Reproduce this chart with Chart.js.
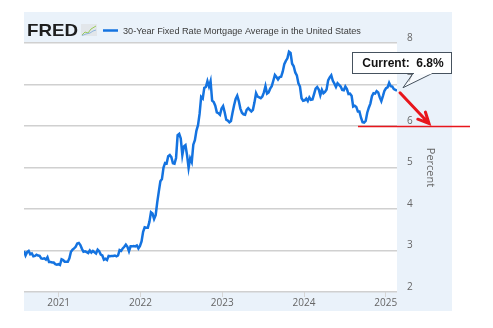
<!DOCTYPE html>
<html>
<head>
<meta charset="utf-8">
<title>30-Year Fixed Rate Mortgage Average in the United States</title>
<script src="https://cdn.jsdelivr.net/npm/chart.js@4.4.1/dist/chart.umd.min.js"></script>
<style>
  html, body { margin: 0; padding: 0; background: #fff; }
  canvas { display: block; }
</style>
</head>
<body>
<canvas id="rateChart" width="493" height="328"></canvas>
<script>
var seriesName = "30-Year Fixed Rate Mortgage Average in the United States";
var axisTitle = "Percent";
var currentLabel = "Current:  6.8%";

// weekly readings (Thursdays), first one on this date
var firstWeek = [2020, 6, 30];
var rate2020 = [2.99, 2.88, 2.96, 2.99, 2.91, 2.93, 2.86, 2.87, 2.90, 2.88, 2.87, 2.81, 2.80, 2.81, 2.78, 2.84,
  2.72, 2.72, 2.71, 2.71, 2.67, 2.66, 2.67];
var rate2021 = [2.65, 2.79, 2.77, 2.73, 2.73, 2.73, 2.81, 2.97, 3.02, 3.05, 3.09, 3.17, 3.18, 3.13, 3.04, 2.97,
  2.98, 2.96, 2.94, 3.00, 2.95, 2.99, 2.96, 2.93, 3.02, 2.98, 2.90, 2.88, 2.78, 2.80, 2.77, 2.87, 2.86, 2.87,
  2.87, 2.88, 2.86, 2.88, 3.01, 2.99, 3.05, 3.09, 3.14, 3.09, 2.98, 3.10, 3.10, 3.11, 3.10, 3.12, 3.05, 3.11];
var rate2022 = [3.22, 3.45, 3.56, 3.55, 3.55, 3.69, 3.92, 3.89, 3.76, 3.85, 4.16, 4.42, 4.67, 4.72, 5.00, 5.11,
  5.10, 5.27, 5.30, 5.25, 5.10, 5.09, 5.23, 5.78, 5.81, 5.70, 5.30, 5.51, 5.54, 5.30, 4.99, 5.22, 5.13, 5.55,
  5.66, 5.89, 6.02, 6.29, 6.70, 6.66, 6.92, 6.94, 7.08, 6.95, 7.08, 6.61, 6.58, 6.49, 6.33, 6.31, 6.27, 6.42];
var rate2023 = [6.48, 6.33, 6.15, 6.13, 6.09, 6.12, 6.32, 6.50, 6.65, 6.73, 6.60, 6.42, 6.32, 6.28, 6.27, 6.39,
  6.43, 6.39, 6.35, 6.39, 6.57, 6.79, 6.71, 6.69, 6.67, 6.71, 6.81, 6.96, 6.78, 6.81, 6.90, 6.96, 7.09, 7.23,
  7.18, 7.12, 7.18, 7.19, 7.31, 7.49, 7.57, 7.63, 7.79, 7.76, 7.50, 7.44, 7.29, 7.22, 7.03, 6.95, 6.67, 6.61];
var rate2024 = [6.62, 6.66, 6.60, 6.69, 6.63, 6.64, 6.77, 6.90, 6.94, 6.88, 6.74, 6.87, 6.79, 6.82, 6.88, 7.10,
  7.17, 7.22, 7.09, 7.02, 6.94, 7.03, 6.99, 6.95, 6.87, 6.86, 6.95, 6.89, 6.77, 6.78, 6.73, 6.47, 6.49, 6.46,
  6.35, 6.35, 6.20, 6.09, 6.08, 6.12, 6.32, 6.44, 6.54, 6.72, 6.79, 6.78, 6.84, 6.81, 6.69, 6.60, 6.72, 6.85];
var rate2025 = [6.91, 6.93, 7.04, 6.96, 6.95, 6.89, 6.87, 6.85];

var yearTicks = [2021, 2022, 2023, 2024, 2025];
var percentTicks = [2, 3, 4, 5, 6, 7, 8];
var targetRate = 6;

var lineBlue = "#1473e0";
var panelBlue = "#eaf2fa";

function decimalYear(ms) {
  var y = new Date(ms).getUTCFullYear();
  var s = Date.UTC(y, 0, 1);
  var e = Date.UTC(y + 1, 0, 1);
  return y + (ms - s) / (e - s);
}

var allRates = [].concat(rate2020, rate2021, rate2022, rate2023, rate2024, rate2025);
var start = Date.UTC(firstWeek[0], firstWeek[1], firstWeek[2]);
var points = allRates.map(function (v, i) {
  return { x: decimalYear(start + i * 7 * 86400000), y: v };
});

var decorPlugin = {
  id: "fredDecor",
  beforeDraw: function (chart) {
    var ctx = chart.ctx;
    var a = chart.chartArea;
    ctx.save();
    ctx.fillStyle = panelBlue;
    ctx.fillRect(a.left, 12, 452 - a.left, 311 - 12);
    ctx.fillStyle = "#fff";
    ctx.fillRect(a.left, a.top, a.right - a.left, a.bottom - a.top);

    // FRED logo
    ctx.fillStyle = "#1e1e1e";
    ctx.font = "bold 17px 'Liberation Sans', Arial, sans-serif";
    ctx.textBaseline = "alphabetic";
    var lw = ctx.measureText("FRED").width;
    ctx.save();
    ctx.translate(27, 36);
    ctx.scale(51 / lw, 1);
    ctx.fillText("FRED", 0, 0);
    ctx.restore();
    ctx.fillStyle = "#e2e6ea";
    ctx.fillRect(81, 24, 16, 12);
    ctx.lineWidth = 1;
    ctx.strokeStyle = "#9acb5a";
    ctx.beginPath();
    ctx.moveTo(82, 35); ctx.lineTo(85, 32); ctx.lineTo(88, 33); ctx.lineTo(91, 29); ctx.lineTo(96, 26);
    ctx.stroke();
    ctx.strokeStyle = "#8fb6dc";
    ctx.beginPath();
    ctx.moveTo(82, 35.5); ctx.lineTo(86, 34); ctx.lineTo(90, 33); ctx.lineTo(93, 31); ctx.lineTo(96, 30);
    ctx.stroke();

    // legend
    ctx.strokeStyle = lineBlue;
    ctx.lineWidth = 2.5;
    ctx.beginPath();
    ctx.moveTo(103, 30.5);
    ctx.lineTo(118, 30.5);
    ctx.stroke();
    ctx.font = "10px 'Liberation Sans', Arial, sans-serif";
    var tw = ctx.measureText(seriesName).width;
    ctx.font = (10 * 238 / tw).toFixed(2) + "px 'Liberation Sans', Arial, sans-serif";
    ctx.fillStyle = "#3c3c3c";
    ctx.textBaseline = "middle";
    ctx.fillText(seriesName, 123, 31);

    // axis title
    ctx.save();
    ctx.translate(430, (a.top + a.bottom) / 2);
    ctx.rotate(Math.PI / 2);
    ctx.font = "11px 'Open Sans', sans-serif";
    ctx.fillStyle = "#666";
    ctx.textAlign = "center";
    ctx.textBaseline = "middle";
    ctx.fillText(axisTitle, 0, 0);
    ctx.restore();
    ctx.restore();
  },
  afterDraw: function (chart) {
    var ctx = chart.ctx;
    var xs = chart.scales.x;
    var ys = chart.scales.y;
    var last = points[points.length - 1];
    var lx = xs.getPixelForValue(last.x);
    var ly = ys.getPixelForValue(last.y);
    var y6 = Math.round(ys.getPixelForValue(targetRate)) + 0.5;
    ctx.save();

    // red target line
    ctx.strokeStyle = "#e8161c";
    ctx.lineWidth = 1.5;
    ctx.beginPath();
    ctx.moveTo(xs.getPixelForValue(2024.66), y6);
    ctx.lineTo(470, y6);
    ctx.stroke();

    // red arrow
    var x0 = lx + 3, y0 = ly + 2, x1 = lx + 32, y1 = y6 - 3;
    ctx.lineWidth = 3;
    ctx.lineCap = "round";
    ctx.beginPath();
    ctx.moveTo(x0, y0);
    ctx.lineTo(x1, y1);
    var ang = Math.atan2(y1 - y0, x1 - x0);
    var hl = 12, sp = 0.45;
    ctx.moveTo(x1 - hl * Math.cos(ang - sp), y1 - hl * Math.sin(ang - sp));
    ctx.lineTo(x1, y1);
    ctx.lineTo(x1 - hl * Math.cos(ang + sp), y1 - hl * Math.sin(ang + sp));
    ctx.stroke();

    // callout
    var bx = 352.5, by = 52.5, bw = 99, bh = 21;
    ctx.lineCap = "butt";
    ctx.lineWidth = 1;
    ctx.strokeStyle = "#46525e";
    ctx.fillStyle = "rgba(255,255,255,0.95)";
    ctx.fillRect(bx, by, bw, bh);
    ctx.strokeRect(bx, by, bw, bh);
    ctx.fillStyle = "rgba(255,255,255,0.6)";
    ctx.beginPath();
    ctx.moveTo(414, by + bh);
    ctx.lineTo(lx + 6, ly - 3);
    ctx.lineTo(432, by + bh);
    ctx.fill();
    ctx.beginPath();
    ctx.moveTo(413, by + bh);
    ctx.lineTo(lx + 6, ly - 3);
    ctx.lineTo(432, by + bh);
    ctx.stroke();
    ctx.fillStyle = "#fff";
    ctx.fillRect(414, by + bh - 0.5, 17.5, 1.2);
    ctx.fillStyle = "#111";
    ctx.font = "bold 12px 'Liberation Sans', Arial, sans-serif";
    ctx.textAlign = "center";
    ctx.textBaseline = "middle";
    ctx.fillText(currentLabel, bx + bw / 2 + 1, by + bh / 2 + 0.5);
    ctx.restore();
  }
};

new Chart(document.getElementById("rateChart").getContext("2d"), {
  type: "line",
  data: {
    datasets: [
      {
        label: seriesName,
        data: points,
        borderColor: lineBlue,
        borderWidth: 2.5,
        pointRadius: 0,
        tension: 0,
        fill: false,
      },
    ],
  },
  options: {
    responsive: false,
    animation: false,
    devicePixelRatio: 1,
    layout: { padding: { left: 24, top: 43, right: 41, bottom: 17 } },
    plugins: {
      legend: { display: false },
      tooltip: { enabled: false },
    },
    scales: {
      x: {
        type: "linear",
        min: points[0].x,
        max: points[points.length - 1].x,
        afterBuildTicks: function (scale) {
          scale.ticks = yearTicks.map(function (v) { return { value: v }; });
        },
        afterFit: function (scale) { scale.height = 19; },
        border: { display: false },
        grid: { drawOnChartArea: false, drawTicks: true, tickLength: 5, color: "#d6d6d6", lineWidth: 1 },
        ticks: {
          padding: 0,
          maxRotation: 0,
          color: "#666",
          font: { family: "'Open Sans', sans-serif", size: 10 },
          callback: function (v) { return String(v); },
        },
      },
      y: {
        position: "right",
        min: percentTicks[0],
        max: percentTicks[percentTicks.length - 1],
        afterBuildTicks: function (scale) {
          scale.ticks = percentTicks.map(function (v) { return { value: v }; });
        },
        afterFit: function (scale) { scale.width = 55; },
        border: { display: false },
        grid: { drawTicks: false, color: "#d0d0d0", lineWidth: 1.5 },
        ticks: {
          padding: 10,
          labelOffset: -5,
          color: "#666",
          font: { family: "'Open Sans', sans-serif", size: 10 },
        },
      },
    },
  },
  plugins: [decorPlugin],
});
</script>
</body>
</html>
